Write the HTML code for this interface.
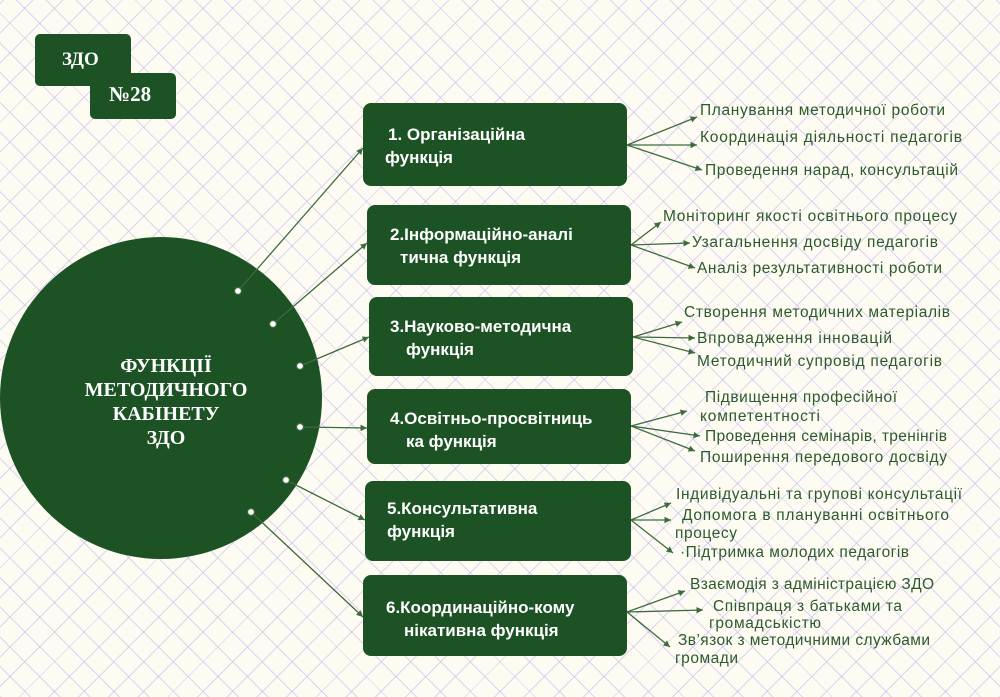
<!DOCTYPE html>
<html><head><meta charset="utf-8"><style>
html,body{margin:0;padding:0}
body{width:1000px;height:697px;overflow:hidden;background:#fefcf2;
background-image:repeating-linear-gradient(45deg,rgba(190,180,240,.55) 0 1px,transparent 1px 21px),repeating-linear-gradient(-45deg,rgba(190,180,240,.55) 0 1px,transparent 1px 21px);}
svg{position:absolute;left:0;top:0}
.b{fill:#fff;font-family:"Liberation Sans",sans-serif;font-weight:bold;font-size:17px}
.t{fill:#2c5a2c;font-family:"Liberation Sans",sans-serif;font-size:15.5px}
</style></head><body>
<svg width="1000" height="697" viewBox="0 0 1000 697">
<defs><marker id="a" markerWidth="6" markerHeight="6" refX="5" refY="3" orient="auto"><path d="M0,0.5 L5,3 L0,5.5z" fill="#3d6b3d"/></marker></defs>
<rect x="35" y="34" width="96" height="52" rx="5" fill="#1c5224"/>
<rect x="90" y="73" width="86" height="46" rx="5" fill="#1c5224"/>
<text x="62" y="65" fill="#fff" font-family="Liberation Serif,serif" font-weight="bold" font-size="19">ЗДО</text>
<text x="109" y="101" fill="#fff" font-family="Liberation Serif,serif" font-weight="bold" font-size="21">№28</text>
<circle cx="161" cy="398" r="161" fill="#1c5224"/>
<g fill="#fff" font-family="Liberation Serif,serif" font-weight="bold" font-size="20" text-anchor="middle">
<text x="166" y="372">ФУНКЦІЇ</text><text x="166" y="396">МЕТОДИЧНОГО</text><text x="166" y="420">КАБІНЕТУ</text><text x="166" y="444">ЗДО</text></g>
<g stroke="#3d6b3d" stroke-width="1.3" fill="none" marker-end="url(#a)">
<line x1="238" y1="291" x2="363" y2="148"/><line x1="273" y1="324" x2="367" y2="243"/>
<line x1="300" y1="366" x2="369" y2="337"/><line x1="300" y1="427" x2="367" y2="428"/>
<line x1="286" y1="480" x2="365" y2="520"/><line x1="251" y1="512" x2="363" y2="617"/>
<line x1="627" y1="145" x2="697" y2="117"/><line x1="627" y1="145" x2="697" y2="145"/><line x1="627" y1="145" x2="702" y2="170"/>
<line x1="631" y1="245" x2="661" y2="222"/><line x1="631" y1="245" x2="690" y2="243"/><line x1="631" y1="245" x2="695" y2="268"/>
<line x1="633" y1="337" x2="682" y2="322"/><line x1="633" y1="337" x2="695" y2="338"/><line x1="633" y1="337" x2="695" y2="353"/>
<line x1="631" y1="426" x2="687" y2="411"/><line x1="631" y1="426" x2="700" y2="436"/><line x1="631" y1="426" x2="695" y2="451"/>
<line x1="631" y1="520" x2="671" y2="503"/><line x1="631" y1="520" x2="671" y2="520"/><line x1="631" y1="520" x2="673" y2="553"/>
<line x1="627" y1="612" x2="685" y2="591"/><line x1="627" y1="612" x2="703" y2="610"/><line x1="627" y1="612" x2="670" y2="647"/>
</g>
<g fill="#fff" stroke="#3d6b3d" stroke-width="1.2">
<circle cx="238" cy="291" r="3.5"/><circle cx="273" cy="324" r="3.5"/><circle cx="300" cy="366" r="3.5"/><circle cx="300" cy="427" r="3.5"/><circle cx="286" cy="480" r="3.5"/><circle cx="251" cy="512" r="3.5"/></g>
<g fill="#1c5224">
<rect x="363" y="103" width="264" height="83" rx="8"/><rect x="367" y="205" width="264" height="80" rx="8"/>
<rect x="369" y="297" width="264" height="79" rx="8"/><rect x="367" y="389" width="264" height="75" rx="8"/>
<rect x="365" y="481" width="266" height="80" rx="8"/><rect x="363" y="575" width="264" height="81" rx="8"/></g>
<text class="b" x="388" y="140">1. Організаційна</text><text class="b" x="385" y="163">функція</text>
<text class="b" x="390" y="240">2.Інформаційно-аналі</text><text class="b" x="400" y="263">тична функція</text>
<text class="b" x="390" y="332">3.Науково-методична</text><text class="b" x="406" y="355">функція</text>
<text class="b" x="390" y="424">4.Освітньо-просвітниць</text><text class="b" x="406" y="447">ка функція</text>
<text class="b" x="387" y="514">5.Консультативна</text><text class="b" x="387" y="537">функція</text>
<text class="b" x="386" y="613">6.Координаційно-кому</text><text class="b" x="404" y="636">нікативна функція</text>
<g class="t">
<text class="t" x="700" y="115" textLength="245">Планування методичної роботи</text>
<text class="t" x="700" y="142" textLength="262">Координація діяльності педагогів</text>
<text class="t" x="705" y="175" textLength="253">Проведення нарад, консультацій</text>
<text class="t" x="663" y="221" textLength="294">Моніторинг якості освітнього процесу</text>
<text class="t" x="692" y="247" textLength="246">Узагальнення досвіду педагогів</text>
<text class="t" x="697" y="273" textLength="245">Аналіз результативності роботи</text>
<text class="t" x="684" y="317" textLength="266">Створення методичних матеріалів</text>
<text class="t" x="697" y="343" textLength="195">Впровадження інновацій</text>
<text class="t" x="697" y="366" textLength="245">Методичний супровід педагогів</text>
<text class="t" x="705" y="402" textLength="192">Підвищення професійної</text>
<text class="t" x="700" y="421" textLength="120">компетентності</text>
<text class="t" x="705" y="441" textLength="242">Проведення семінарів, тренінгів</text>
<text class="t" x="700" y="462" textLength="247">Поширення передового досвіду</text>
<text class="t" x="676" y="499" textLength="286">Індивідуальні та групові консультації</text>
<text class="t" x="682" y="520" textLength="267">Допомога в плануванні освітнього</text>
<text class="t" x="675" y="538" textLength="62">процесу</text>
<text class="t" x="680" y="557" textLength="229">·Підтримка молодих педагогів</text>
<text class="t" x="690" y="589" textLength="244">Взаємодія з адміністрацією ЗДО</text>
<text class="t" x="713" y="611" textLength="189">Співпраця з батьками та</text>
<text class="t" x="709" y="628" textLength="112">громадськістю</text>
<text class="t" x="678" y="645" textLength="252">Зв’язок з методичними службами</text>
<text class="t" x="675" y="663" textLength="63">громади</text>
</g>
</svg>
</body></html>
